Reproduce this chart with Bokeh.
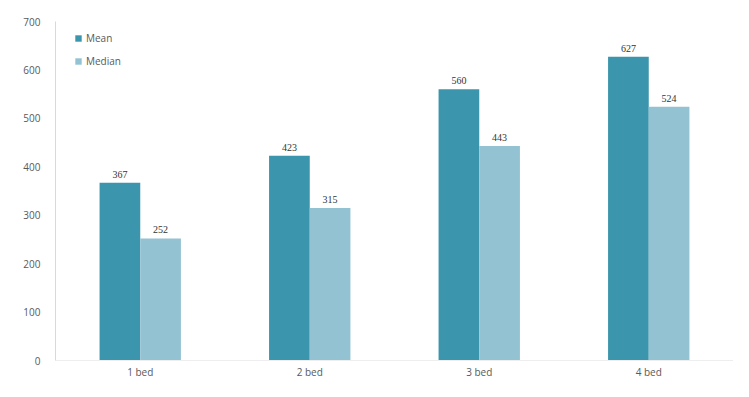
from bokeh.plotting import figure
from bokeh.models import ColumnDataSource, FactorRange, Range1d, LabelSet, Legend, LegendItem
from bokeh.transform import dodge
from bokeh.embed import file_html
from bokeh.resources import INLINE

categories = ["1 bed", "2 bed", "3 bed", "4 bed"]
mean_values = [367, 423, 560, 627]
median_values = [252, 315, 443, 524]
y_ticks = [0, 100, 200, 300, 400, 500, 600, 700]

MEAN_COLOR = "#3a95ad"
MEDIAN_COLOR = "#93c2d3"

src = ColumnDataSource(dict(
    cat=categories,
    mean=mean_values,
    median=median_values,
    mean_lbl=[str(v) for v in mean_values],
    median_lbl=[str(v) for v in median_values],
))

p = figure(x_range=FactorRange(*categories), y_range=Range1d(0, 700),
           width=733, height=381, output_backend="svg", toolbar_location=None,
           min_border_left=55, min_border_right=0, min_border_top=21, min_border_bottom=10)
p.outline_line_color = None
p.background_fill_color = "white"
p.border_fill_color = "white"

r1 = p.vbar(x=dodge("cat", -0.12, range=p.x_range), top="mean", width=0.24, source=src,
            fill_color=MEAN_COLOR, line_color=None)
r2 = p.vbar(x=dodge("cat", 0.12, range=p.x_range), top="median", width=0.24, source=src,
            fill_color=MEDIAN_COLOR, line_color=None)

for col, lbl, off in (("mean", "mean_lbl", -0.12), ("median", "median_lbl", 0.12)):
    labels = LabelSet(x=dodge("cat", off, range=p.x_range), y=col, text=lbl, source=src,
                      text_align="center", text_baseline="bottom", y_offset=5,
                      text_font_size="10px", text_color="#333333", text_font="Open Sans")
    p.add_layout(labels)

p.xgrid.grid_line_color = None
p.ygrid.grid_line_color = None

p.yaxis.ticker = y_ticks
p.yaxis.axis_line_color = "#d9d9d9"
p.yaxis.major_tick_line_color = None
p.yaxis.minor_tick_line_color = None
p.yaxis.major_tick_out = 0
p.yaxis.major_label_text_font_size = "10px"
p.yaxis.major_label_text_color = "#595959"
p.yaxis.major_label_text_font = "Open Sans"
p.yaxis.major_label_standoff = 15

p.xaxis.axis_line_color = "#eeeeee"
p.xaxis.major_tick_line_color = None
p.xaxis.minor_tick_line_color = None
p.xaxis.major_tick_out = 0
p.xaxis.major_tick_in = 0
p.xaxis.major_label_text_font_size = "10px"
p.xaxis.major_label_text_color = "#595959"
p.xaxis.major_label_text_font = "Open Sans"
p.xaxis.major_label_standoff = 4

legend = Legend(items=[LegendItem(label="Mean", renderers=[r1]),
                       LegendItem(label="Median", renderers=[r2])],
                location=(19, 292))
legend.margin = 0
legend.padding = 6
legend.glyph_width = 8
legend.glyph_height = 8
legend.label_height = 10
legend.spacing = 9
legend.label_standoff = 4
legend.label_text_font_size = "10px"
legend.label_text_color = "#595959"
legend.label_text_font = "Open Sans"
legend.border_line_color = None
legend.background_fill_alpha = 0
p.add_layout(legend)

open("out.html", "w").write(file_html(p, INLINE))
